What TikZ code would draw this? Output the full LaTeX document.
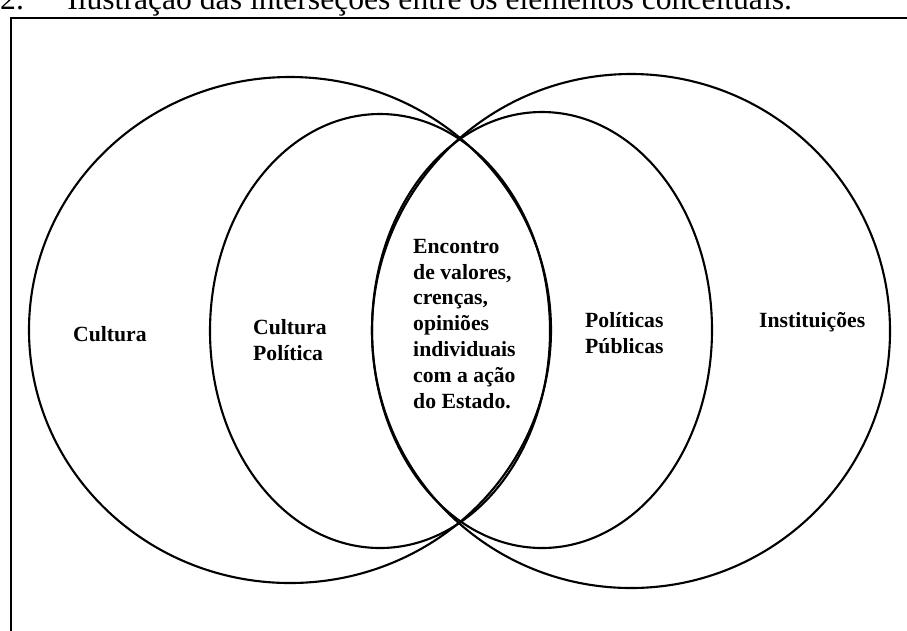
\documentclass[tikz,border=0pt]{standalone}
\usepackage{fontspec}
\setmainfont{Liberation Serif}
\tikzstyle{setline} = [line width=1.8pt]
\tikzstyle{frame} = [line width=1.5pt]
\tikzstyle{setname} = [font=\fontsize{18.5}{22}\selectfont\bfseries, align=left, inner sep=0pt, anchor=base west]
\tikzstyle{caption} = [font=\fontsize{27}{30}\selectfont, inner sep=0pt, anchor=base west]

\begin{document}
\begin{tikzpicture}[x=0.03cm, y=-0.03cm]
        \useasboundingbox (0,0) rectangle (907,630);
        \clip (0,0) rectangle (907,630);

        % caption, cut off at the top of the page
        \node (cap) [caption] at (0,9) {2.\hspace{37pt}Ilustração das interseções entre os elementos conceituais.};
        \draw [frame] (11,18) rectangle (960,700);

        % the four sets
        \draw [setline] (290,330) ellipse [x radius=261, y radius=253];
        \draw [setline] (380,331) ellipse [x radius=170, y radius=217];
        \draw [setline] (542,330) ellipse [x radius=170, y radius=218];
        \draw [setline] (631,331) ellipse [x radius=259, y radius=257];

        % names of the sets (placed at the baseline of their last line)
        \node (cult) [setname] at (73,341) {Cultura};
        \node (cultpol) [setname] at (253,360) {Cultura\\Política};
        \node (meet) [setname] at (413,408) {Encontro\\de valores,\\crenças,\\opiniões\\individuais\\com a ação\\do Estado.};
        \node (polpub) [setname] at (585,353) {Políticas\\Públicas};
        \node (inst) [setname] at (759,327) {Instituições};
\end{tikzpicture}
\end{document}
